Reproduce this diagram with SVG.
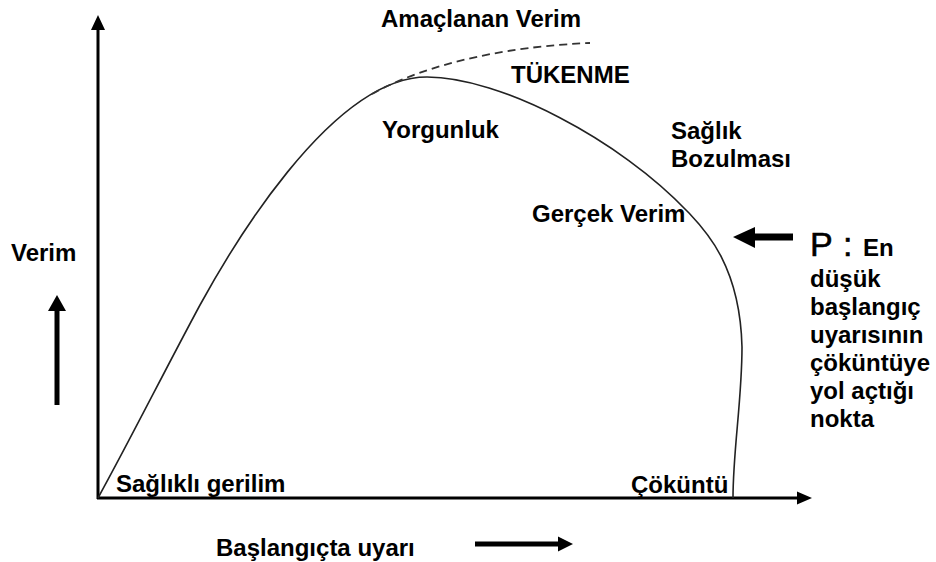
<svg xmlns="http://www.w3.org/2000/svg" width="936" height="562" viewBox="0 0 936 562">
<style>
  text { font-family: "Liberation Sans", Arial, sans-serif; font-weight: bold; font-size: 24px; fill: #000; }
  .p { font-weight: normal; font-size: 34px; stroke: #000; stroke-width: 0.6; }
  .axis { stroke: #000; stroke-width: 3; fill: none; }
  .curve { stroke: #222; stroke-width: 1.6; fill: none; }
  .dash { stroke: #333; stroke-width: 1.8; fill: none; stroke-dasharray: 8 5; }
  .thick { stroke: #000; stroke-width: 5; fill: none; }
</style>
<rect width="936" height="562" fill="#fff"/>
<g id="axes">
  <line class="axis" x1="98" y1="499" x2="98" y2="28"/>
  <polygon points="98,15 91,30 105,30" fill="#000"/>
  <line class="axis" x1="97" y1="498" x2="798" y2="498"/>
  <polygon points="812,498 797,491.5 797,504.5" fill="#000"/>
</g>
<g id="connectors">
  <path id="real-curve" class="curve" d="M98,498 C130,440 165,370 200,305 C228,254 330,77 427,77 C500,77 620,140 688,212 C705,230 740,265 742,347 C742,400 733,450 733,498"/>
  <path id="target-curve" class="dash" d="M372,94 C400,78 470,48 590,43"/>
  <g id="arrow-verim">
    <line class="thick" x1="57" y1="405" x2="57" y2="309"/>
    <polygon points="57,295 48,311 66,311" fill="#000"/>
  </g>
  <g id="arrow-uyari">
    <line class="thick" x1="475" y1="544" x2="559" y2="544"/>
    <polygon points="573,544 558,536.5 558,551.5" fill="#000"/>
  </g>
  <g id="arrow-p">
    <line stroke="#000" stroke-width="7" x1="754" y1="237" x2="793" y2="237"/>
    <polygon points="733,237 755,227 755,248" fill="#000"/>
  </g>
</g>
<g id="label-amaclanan"><text x="381" y="27">Amaçlanan Verim</text></g>
<g id="label-tukenme"><text x="511" y="83">TÜKENME</text></g>
<g id="label-yorgunluk"><text x="382" y="138">Yorgunluk</text></g>
<g id="label-saglik"><text x="671" y="139">Sağlık</text><text x="671" y="167">Bozulması</text></g>
<g id="label-gercek"><text x="532" y="222">Gerçek Verim</text></g>
<g id="label-verim"><text x="11" y="261">Verim</text></g>
<g id="label-saglikli"><text x="116" y="492">Sağlıklı gerilim</text></g>
<g id="label-cokuntu"><text x="631" y="493">Çöküntü</text></g>
<g id="label-baslangic"><text x="216" y="556">Başlangıçta uyarı</text></g>
<g id="label-p">
  <text class="p" x="810" y="256">P</text>
  <text class="p" x="843" y="256">:</text>
  <text x="863" y="256">En</text>
  <text x="810" y="287">düşük</text>
  <text x="810" y="315">başlangıç</text>
  <text x="810" y="343">uyarısının</text>
  <text x="810" y="371">çöküntüye</text>
  <text x="810" y="399">yol açtığı</text>
  <text x="810" y="427">nokta</text>
</g>
</svg>
